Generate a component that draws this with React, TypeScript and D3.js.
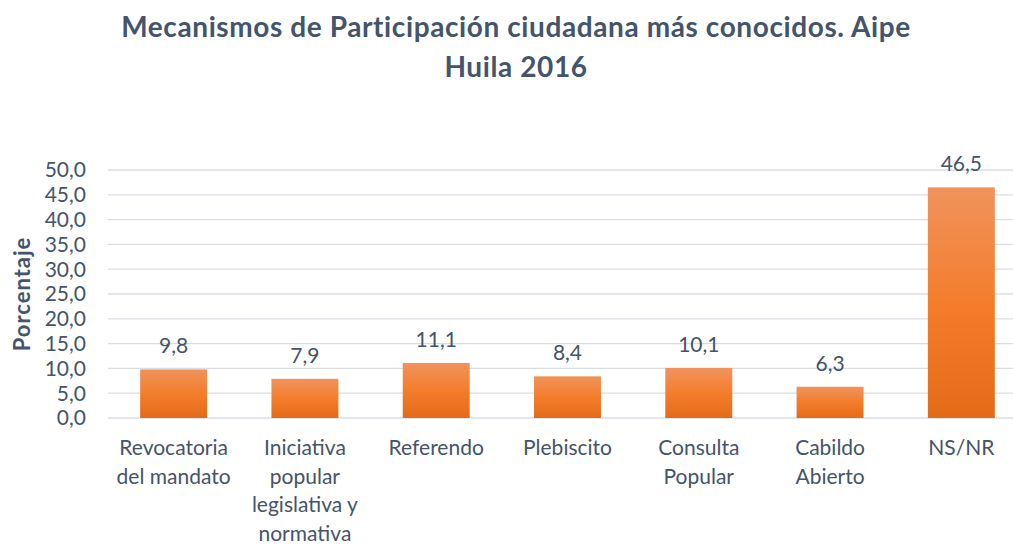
import { useEffect, useRef } from 'react'
import * as d3 from 'd3'

const categorias: string[][] = [
  ['Revocatoria', 'del mandato'],
  ['Iniciativa', 'popular', 'legislativa y', 'normativa'],
  ['Referendo'],
  ['Plebiscito'],
  ['Consulta', 'Popular'],
  ['Cabildo', 'Abierto'],
  ['NS/NR'],
]
const valores = [9.8, 7.9, 11.1, 8.4, 10.1, 6.3, 46.5]
const ticks = [0, 5, 10, 15, 20, 25, 30, 35, 40, 45, 50]
const titulo = ['Mecanismos de Participación ciudadana más conocidos. Aipe', 'Huila 2016']

const fmt = (v: number) => v.toFixed(1).replace('.', ',')

function App() {
  const svgRef = useRef<SVGSVGElement>(null)
  const width = 1013
  const height = 546

  useEffect(() => {
    const svg = d3.select(svgRef.current)
    svg.selectAll('*').remove()

    const font = 'Lato, "Open Sans", sans-serif'
    const textColor = '#44546A'

    const x = d3.scaleBand<number>()
      .domain(valores.map((_, i) => i))
      .range([108, 1027])
      .paddingInner(0.49)
      .paddingOuter(0.245)

    const y = d3.scaleLinear().domain([0, 50]).range([418, 170])

    // gradiente de las barras
    const defs = svg.append('defs')
    const grad = defs.append('linearGradient')
      .attr('id', 'barGrad')
      .attr('x1', 0).attr('y1', 0).attr('x2', 0).attr('y2', 1)
    grad.append('stop').attr('offset', '0%').attr('stop-color', '#F0935C')
    grad.append('stop').attr('offset', '50%').attr('stop-color', '#F47D2C')
    grad.append('stop').attr('offset', '100%').attr('stop-color', '#E36B18')

    // Título
    svg.append('g').selectAll('text')
      .data(titulo)
      .enter()
      .append('text')
      .attr('x', 516)
      .attr('y', (_, i) => 37 + i * 40)
      .attr('text-anchor', 'middle')
      .attr('font-family', font)
      .attr('font-weight', 'bold')
      .attr('font-size', '28px')
      .attr('letter-spacing', '0.6px')
      .attr('fill', textColor)
      .text(d => d)

    // Líneas de cuadrícula
    svg.append('g').selectAll('line')
      .data(ticks)
      .enter()
      .append('line')
      .attr('x1', 108)
      .attr('x2', width)
      .attr('y1', d => y(d))
      .attr('y2', d => y(d))
      .attr('stroke', '#D9DDE3')
      .attr('stroke-width', 1.3)

    // Etiquetas eje Y
    svg.append('g').selectAll('text')
      .data(ticks)
      .enter()
      .append('text')
      .attr('x', 86)
      .attr('y', d => y(d))
      .attr('dy', '0.35em')
      .attr('text-anchor', 'end')
      .attr('font-family', font)
      .attr('font-size', '21px')
      .attr('fill', textColor)
      .text(d => fmt(d))

    svg.append('text')
      .attr('transform', 'translate(30, 294) rotate(-90)')
      .attr('text-anchor', 'middle')
      .attr('font-family', font)
      .attr('font-weight', 'bold')
      .attr('font-size', '22px')
      .attr('letter-spacing', '1px')
      .attr('fill', textColor)
      .text('Porcentaje')

    // Barras
    svg.append('g').selectAll('rect')
      .data(valores)
      .enter()
      .append('rect')
      .attr('x', (_, i) => x(i)!)
      .attr('y', d => y(d))
      .attr('width', x.bandwidth())
      .attr('height', d => y(0) - y(d))
      .attr('fill', 'url(#barGrad)')

    // Valores
    svg.append('g').selectAll('text')
      .data(valores)
      .enter()
      .append('text')
      .attr('x', (_, i) => x(i)! + x.bandwidth() / 2)
      .attr('y', d => y(d) - 16)
      .attr('text-anchor', 'middle')
      .attr('font-family', font)
      .attr('font-size', '21px')
      .attr('fill', textColor)
      .text(d => fmt(d))

    // Etiquetas de categorías
    const cat = svg.append('g').selectAll('text')
      .data(categorias)
      .enter()
      .append('text')
      .attr('text-anchor', 'middle')
      .attr('font-family', font)
      .attr('font-size', '21px')
      .attr('fill', textColor)

    cat.selectAll('tspan')
      .data((d, i) => d.map(line => ({ line, i })))
      .enter()
      .append('tspan')
      .attr('x', d => x(d.i)! + x.bandwidth() / 2)
      .attr('y', (_, j) => 455 + j * 28.5)
      .text(d => d.line)
  }, [])

  return (
    <svg
      ref={svgRef}
      width={width}
      height={height}
      style={{ position: 'absolute', left: 0, top: 0, background: '#fff' }}
    />
  )
}

export default App
